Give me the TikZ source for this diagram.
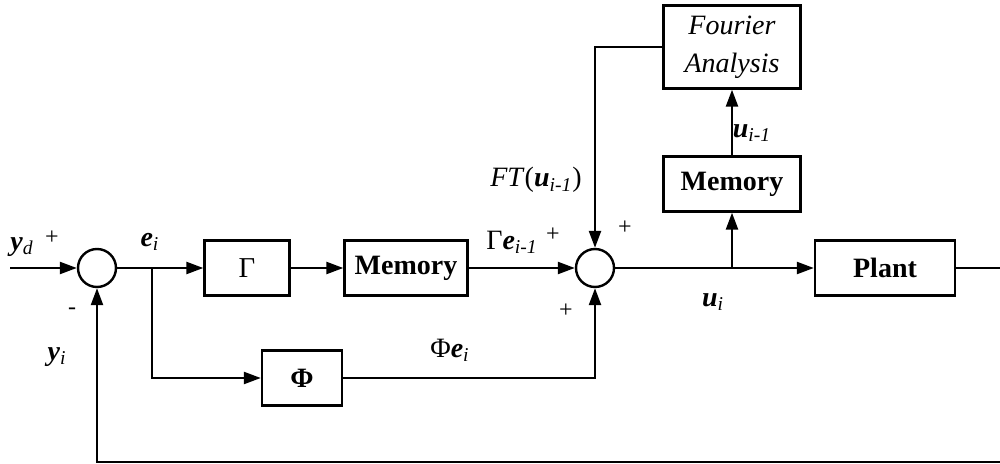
\documentclass[tikz,border=0pt]{standalone}
\usepackage{fontspec}
\setmainfont{Liberation Serif}
\usetikzlibrary{arrows.meta}
\newcommand{\sig}[2]{\textbf{\textit{#1}}\textsubscript{\textit{#2}}}

\begin{document}
\begin{tikzpicture}[x=0.5pt, y=-0.5pt,
    block/.style={rectangle, draw=black, line width=1.2pt, minimum height=27.5pt, align=center, font=\fontsize{14}{16}\selectfont\bfseries},
    sumpt/.style={circle, draw=black, line width=1.2pt, minimum size=19pt, inner sep=0pt},
    arrow/.style={-{Triangle[length=8.5pt, width=6pt]}, line width=1.2pt},
    wire/.style={line width=1.2pt},
    lbl/.style={font=\fontsize{14}{16}\selectfont, inner sep=0pt},
    sgn/.style={font=\fontsize{12}{14}\selectfont, inner sep=0pt},
]
\useasboundingbox (0,0) rectangle (1000,464);

% forward path
\coordinate (ydin) at (10,268);
\node[sumpt] (sum1) at (97,268) {};
\coordinate (ebr) at (152,268);
\node[block, minimum width=42.5pt] (gam) at (247,268) {\normalfont\Large Γ};
\node[block, minimum width=61.5pt] (mem1) at (406,268) {Memory};
\node[sumpt] (sum2) at (595,268) {};
\coordinate (ubr) at (732,268);
\node[block, minimum width=70pt] (plant) at (885,268) {Plant};

% learning branch
\node[block, minimum width=68.5pt] (mem2) at (732,184) {Memory};
\node[block, minimum width=68.5pt, minimum height=41.5pt, font=\fontsize{14}{19}\selectfont\itshape] (fourier) at (732,47) {Fourier\\Analysis};
\node[block, minimum width=40pt] (phi) at (302,378) {Φ};

% feedback corners
\coordinate (rc) at (1004,268);
\coordinate (bc) at (1004,462);

\draw[arrow] (ydin) -- (sum1.west);
\draw[wire] (sum1.east) -- (ebr);
\draw[arrow] (ebr) -- (gam.west);
\draw[arrow] (gam.east) -- (mem1.west);
\draw[arrow] (mem1.east) -- (sum2.west);
\draw[wire] (sum2.east) -- (ubr);
\draw[arrow] (ubr) -- (plant.west);
\draw[arrow] (ubr) -- (mem2.south);
\draw[arrow] (mem2.north) -- (fourier.south);
\draw[arrow] (fourier.west) -| (sum2.north);
\draw[arrow] (ebr) |- (phi.west);
\draw[arrow] (phi.east) -| (sum2.south);
\draw[arrow] (plant.east) -- (rc) -- (bc) -| (sum1.south);

% signal labels
\node[lbl] (lyd) at (22,247) {\sig{y}{d}};
\node[lbl] (lei) at (150,242) {\sig{e}{i}};
\node[lbl] (lyi) at (57,357) {\sig{y}{i}};
\node[lbl] (lgam) at (512,242) {Γ\sig{e}{i-1}};
\node[lbl] (lft) at (536,180) {\textit{FT}(\sig{u}{i-1})};
\node[lbl] (lphi) at (450,350) {Φ\sig{e}{i}};
\node[lbl] (lui) at (713,302) {\sig{u}{i}};
\node[lbl] (lum) at (752,133) {\sig{u}{i-1}};

% signs
\node[sgn] (p1) at (52,238) {+};
\node[sgn] (m1) at (72,311) {-};
\node[sgn] (p2) at (553,235) {+};
\node[sgn] (p3) at (625,228) {+};
\node[sgn] (p4) at (566,311) {+};

\end{tikzpicture}
\end{document}
